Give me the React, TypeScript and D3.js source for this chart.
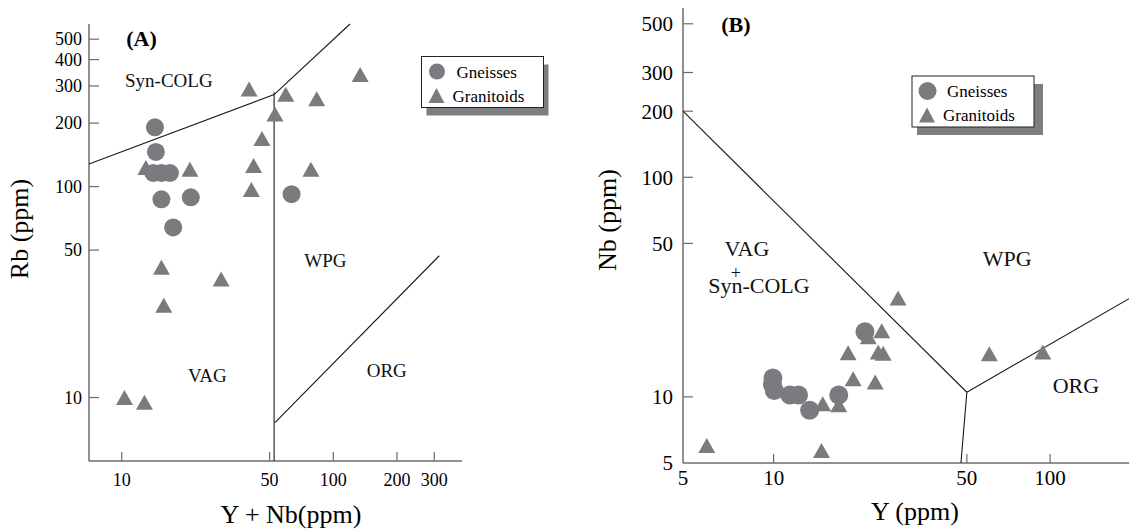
import React from "react";
import * as d3 from "d3";

type Pt = [number, number];

const width = 1129;
const height = 529;
const serif = "'Liberation Serif', 'Times New Roman', Times, serif";
const markFill = "#7a7b7e";
const axisStroke = "#6a6b6e";

// (A) Rb vs Y+Nb
const xTicksA = [10, 50, 100, 200, 300];
const yTicksA = [10, 50, 100, 200, 300, 400, 500];
const gneissesA: Pt[] = [
  [14.35, 191], [14.5, 146], [14.1, 116], [15.4, 116], [16.9, 116],
  [15.4, 87], [21.2, 89], [17.5, 64], [63.5, 92]
];
const granitoidsA: Pt[] = [
  [13, 123], [21, 121], [15.4, 41.5], [29.5, 36.5], [15.8, 27.4],
  [10.3, 10], [12.8, 9.5], [40, 290], [59.6, 274], [83.5, 261],
  [134, 340], [53, 221], [46, 169], [42, 126], [41, 97], [78.4, 121]
];
const fieldLinesA: Pt[][] = [
  [[7, 128], [52.5, 273]],
  [[52.5, 273], [120, 590]],
  [[52.5, 280], [52.5, 5]],
  [[53, 7.6], [317, 47]]
];
const fieldTextA = ["Syn-COLG", "WPG", "VAG", "ORG"];
const fieldAtA: Pt[] = [[16.7, 298], [91.7, 41.7], [25.4, 11.8], [179, 12.5]];

// (B) Nb vs Y
const xTicksB = [10, 50, 100];
const yTicksB = [10, 50, 100, 200, 300, 500];
const gneissesB: Pt[] = [
  [9.94, 12.2], [9.9, 11.4], [10.05, 10.7], [11.45, 10.2], [12.3, 10.2],
  [13.5, 8.7], [17.2, 10.2], [21.4, 19.8]
];
const granitoidsB: Pt[] = [
  [24.6, 20], [22, 18.8], [18.6, 15.9], [23.9, 16], [24.9, 15.8],
  [19.4, 12.1], [23.3, 11.7], [15.05, 9.3], [17.2, 9.2], [14.9, 5.7],
  [28.2, 28.2], [60.3, 15.7], [94.1, 16], [5.73, 6.0]
];
const fieldLinesB: Pt[][] = [
  [[4.7, 200], [50, 10.5]],
  [[50, 10.5], [193, 28]],
  [[50, 10.5], [47.6, 5]]
];
const fieldTextB = ["VAG", "+", "Syn-COLG", "WPG", "ORG"];
const fieldAtB: Pt[] = [[8.0, 43.6], [7.3, 34.6], [8.85, 29.8], [70, 39.6], [124, 10.4]];

const legendNames = ["Gneisses", "Granitoids"];

function triangle(cx: number, cy: number, w: number, h: number) {
  const p = d3.path();
  p.moveTo(cx, cy - h / 2);
  p.lineTo(cx + w / 2, cy + h / 2);
  p.lineTo(cx - w / 2, cy + h / 2);
  p.closePath();
  return p.toString();
}

function Legend({ x, y, r, extra }: { x: number; y: number; r: number; extra: number }) {
  return (
    <g transform={`translate(${x},${y})`} fontFamily={serif} fontSize={17}>
      <rect x={5} y={8} width={122 + extra} height={51} fill="#7d7e81" />
      <rect x={0} y={0} width={122} height={51} fill="#fff" stroke="#222" strokeWidth={1} />
      <circle cx={15.5} cy={15} r={r} fill={markFill} />
      <path d={triangle(15, 39, 16, 15)} fill={markFill} />
      <text x={35} y={21}>{legendNames[0]}</text>
      <text x={31} y={45}>{legendNames[1]}</text>
    </g>
  );
}

type PanelProps = {
  x: d3.ScaleLogarithmic<number, number>;
  y: d3.ScaleLogarithmic<number, number>;
  xTicks: number[];
  yTicks: number[];
  gneisses: Pt[];
  granitoids: Pt[];
  lines: Pt[][];
  fieldText: string[];
  fieldAt: Pt[];
  tickSize: number;
  fieldSize: number;
  yLabelGap: number;
  xLabelDy: number;
  r: number;
};

function Panel(p: PanelProps) {
  const [x0, x1] = p.x.range();
  const [y0, y1] = p.y.range();
  const line = d3.line<Pt>().x(d => p.x(d[0])).y(d => p.y(d[1]));
  return (
    <g fontFamily={serif}>
      <line x1={x0} x2={x0} y1={y1} y2={y0} stroke={axisStroke} strokeWidth={1.5} />
      <line x1={x0} x2={x1} y1={y0} y2={y0} stroke={axisStroke} strokeWidth={1.5} />
      {p.yTicks.map(t => (
        <g key={"y" + t}>
          <line x1={x0} x2={x0 + 10} y1={p.y(t)} y2={p.y(t)} stroke={axisStroke} strokeWidth={1.2} />
          <text x={x0 - p.yLabelGap} y={p.y(t)} dy="0.35em" textAnchor="end" fontSize={p.tickSize}>{t}</text>
        </g>
      ))}
      {p.xTicks.map(t => (
        <g key={"x" + t}>
          <line x1={p.x(t)} x2={p.x(t)} y1={y0} y2={y0 - 9} stroke={axisStroke} strokeWidth={1.2} />
          <text x={p.x(t)} y={y0 + p.xLabelDy} textAnchor="middle" fontSize={p.tickSize}>{t}</text>
        </g>
      ))}
      {p.lines.map((l, i) => (
        <path key={"l" + i} d={line(l) || ""} fill="none" stroke="#1a1a1a" strokeWidth={1.1} />
      ))}
      {p.fieldText.map((t, i) => (
        <text key={"f" + i} x={p.x(p.fieldAt[i][0])} y={p.y(p.fieldAt[i][1])} textAnchor="middle"
          fontSize={t === "+" ? p.fieldSize - 4 : p.fieldSize} fill="#111">{t}</text>
      ))}
      {p.granitoids.map((d, i) => (
        <path key={"t" + i} d={triangle(p.x(d[0]), p.y(d[1]), 17, 15)} fill={markFill} />
      ))}
      {p.gneisses.map((d, i) => (
        <circle key={"c" + i} cx={p.x(d[0])} cy={p.y(d[1])} r={p.r} fill={markFill} />
      ))}
    </g>
  );
}

export default function App() {
  const xA = d3.scaleLog().domain([7, 406]).range([89, 462]);
  const yA = d3.scaleLog().domain([5, 590]).range([461, 24]);
  const xB = d3.scaleLog().domain([4.7, 193]).range([683, 1129]);
  const yB = d3.scaleLog().domain([5, 590]).range([463, 8]);

  return (
    <div style={{ position: "absolute", left: 0, top: 0 }}>
      <svg width={width} height={height} style={{ display: "block", background: "#fff" }}>
        <Panel x={xA} y={yA} xTicks={xTicksA} yTicks={yTicksA} gneisses={gneissesA}
          granitoids={granitoidsA} lines={fieldLinesA} fieldText={fieldTextA} fieldAt={fieldAtA}
          tickSize={18} fieldSize={19} yLabelGap={7} xLabelDy={25} r={9} />
        <Panel x={xB} y={yB} xTicks={xTicksB} yTicks={yTicksB} gneisses={gneissesB}
          granitoids={granitoidsB} lines={fieldLinesB} fieldText={fieldTextB} fieldAt={fieldAtB}
          tickSize={21} fieldSize={22} yLabelGap={10} xLabelDy={22} r={9.5} />

        {/* corner labels of panel B */}
        <text x={673} y={463} dy="0.35em" textAnchor="end" fontFamily={serif} fontSize={21}>5</text>
        <text x={683} y={485} textAnchor="middle" fontFamily={serif} fontSize={21}>5</text>

        <text x={xA(12.4)} y={yA(465)} textAnchor="middle" fontFamily={serif} fontSize={22} fontWeight="bold">(A)</text>
        <text x={xB(7.3)} y={yB(458)} textAnchor="middle" fontFamily={serif} fontSize={22} fontWeight="bold">(B)</text>

        <text transform="translate(28,229) rotate(-90)" textAnchor="middle" fontFamily={serif} fontSize={26}>Rb (ppm)</text>
        <text x={291} y={523} textAnchor="middle" fontFamily={serif} fontSize={26}>Y + Nb(ppm)</text>
        <text transform="translate(616,220) rotate(-90)" textAnchor="middle" fontFamily={serif} fontSize={26}>Nb (ppm)</text>
        <text x={915} y={520} textAnchor="middle" fontFamily={serif} fontSize={26}>Y (ppm)</text>

        <Legend x={421.5} y={56.5} r={8} extra={0} />
        <Legend x={912} y={76} r={9} extra={4} />
      </svg>
    </div>
  );
}
